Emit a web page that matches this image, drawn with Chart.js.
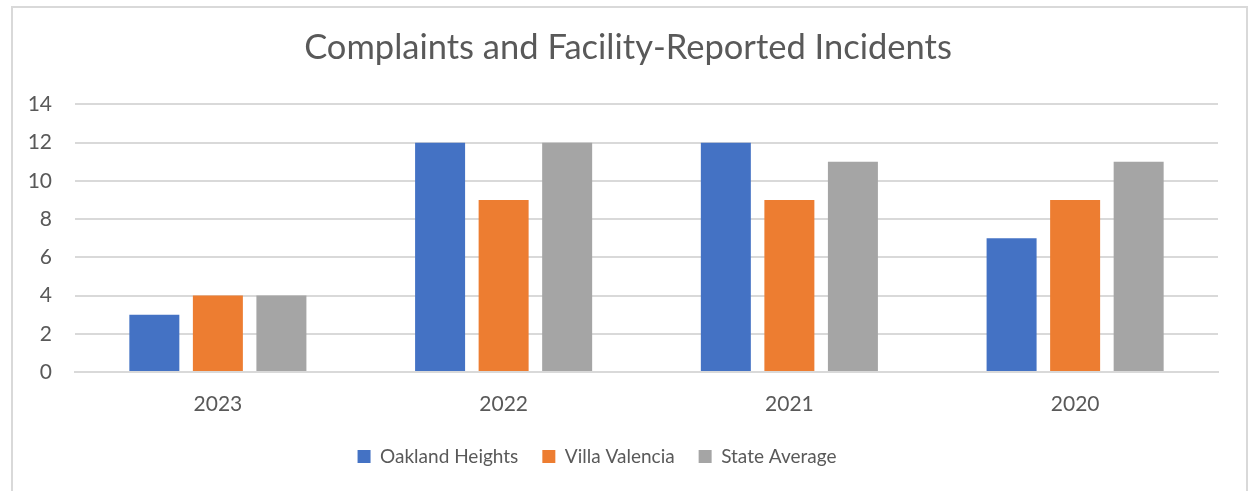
<!DOCTYPE html>
<html lang="en">
<head>
    <meta charset="UTF-8">
    <title>Complaints and Facility-Reported Incidents</title>
    <style>
        body { margin: 0; background: #fff; }
        #frame {
            position: absolute; left: 11px; top: 6px;
            width: 1233px; height: 500px;
            border: 2px solid #d9d9d9;
        }
        #incidentsChart { position: absolute; left: 0; top: 0; }
    </style>
</head>
<body>
    <div id="frame"></div>
    <canvas id="incidentsChart" width="1248" height="491"></canvas>

    <script src="https://cdn.jsdelivr.net/npm/chart.js"></script>
    <script>
        // data
        var years = ['2023', '2022', '2021', '2020'];
        var oaklandHeights = [3, 12, 12, 7];
        var villaValencia = [4, 9, 9, 9];
        var stateAverage = [4, 12, 11, 11];

        var textColor = '#595959';
        var fontFamily = 'Lato, "Open Sans", sans-serif';

        // title sits on the frame centre, legend a bit left of the plot centre (like Excel)
        var nudgeBlocks = {
            id: 'nudgeBlocks',
            afterLayout: function(chart) {
                chart.titleBlock.left += 19;
                chart.titleBlock.right += 19;
                chart.legend.left -= 12;
                chart.legend.right -= 12;
            }
        };

        var ctx = document.getElementById('incidentsChart').getContext('2d');
        var incidentsChart = new Chart(ctx, {
            type: 'bar',
            data: {
                labels: years,
                datasets: [
                    { label: 'Oakland Heights', data: oaklandHeights, backgroundColor: '#4472c4' },
                    { label: 'Villa Valencia', data: villaValencia, backgroundColor: '#ed7d31' },
                    { label: 'State Average', data: stateAverage, backgroundColor: '#a5a5a5' }
                ]
            },
            plugins: [nudgeBlocks],
            options: {
                responsive: false,
                animation: false,
                layout: { padding: { left: 0, right: 30, top: 0, bottom: 15 } },
                datasets: {
                    bar: { categoryPercentage: 0.667, barPercentage: 0.787 }
                },
                plugins: {
                    title: {
                        display: true,
                        text: 'Complaints and Facility-Reported Incidents',
                        color: textColor,
                        font: { family: fontFamily, size: 34.5, weight: 'normal' },
                        padding: { top: 27, bottom: 36 }
                    },
                    legend: {
                        position: 'bottom',
                        labels: {
                            color: textColor,
                            font: { family: fontFamily, size: 19 },
                            boxWidth: 13,
                            boxHeight: 13,
                            padding: 24
                        }
                    },
                    tooltip: { enabled: false }
                },
                scales: {
                    x: {
                        grid: { display: false },
                        border: { color: '#d9d9d9', width: 2 },
                        ticks: { color: textColor, font: { family: fontFamily, size: 21 }, padding: 12 },
                        afterFit: function(scale) { scale.height = 51; }
                    },
                    y: {
                        min: 0,
                        max: 14,
                        grid: { color: '#d9d9d9', lineWidth: 2, drawTicks: false },
                        border: { display: false },
                        ticks: { stepSize: 2, color: textColor, font: { family: fontFamily, size: 21 }, padding: 23 },
                        afterFit: function(scale) { scale.width = 75; }
                    }
                }
            }
        });
    </script>
</body>
</html>
